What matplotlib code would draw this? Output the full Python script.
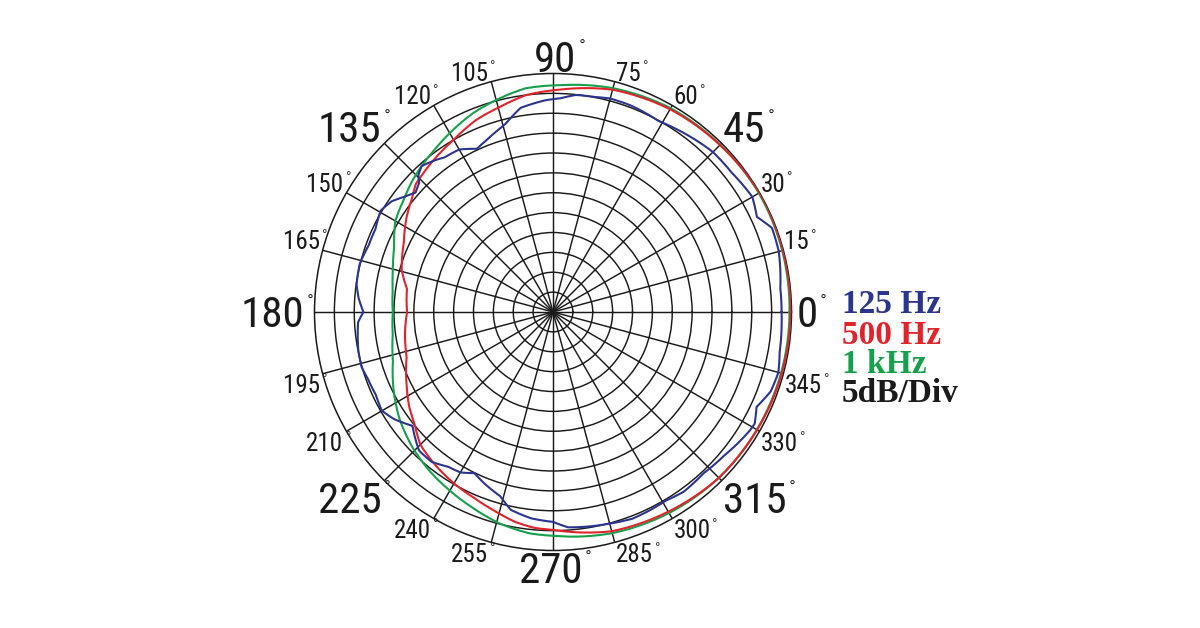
#!/usr/bin/env python3
"""Polar response plot: 125 Hz / 500 Hz / 1 kHz, 5 dB per division."""

import matplotlib
matplotlib.use("Agg")
import matplotlib.pyplot as plt
import matplotlib.transforms as mtransforms
import numpy as np

# ---- data (dB re. max) ----
hz125_deg = [0, 6, 15, 21, 25, 30, 38, 45, 52, 61, 69, 75, 79, 84, 88, 92, 99, 104,
             106, 111, 115, 120, 125, 128, 132, 134.5, 136, 139, 142, 145.5, 149.5,
             155, 160, 166, 172, 176, 180, 183, 191, 196, 200, 205, 210, 214, 219,
             222, 226, 231, 236, 240, 244, 248, 254, 258, 264, 270, 274, 285, 291,
             301, 306, 313, 320, 329, 331, 335, 340, 345, 350, 357, 360]
hz125_db = [-2.5, -2.5, -1.2, -1.0, -3.4, -2.1, -3.0, -3.1, -4.0, -5.1, -4.5, -4.4,
            -4.9, -5.1, -6.2, -6.7, -8.0, -11.1, -11.9, -13.6, -14.7, -12.8, -12.5,
            -11.6, -10.6, -11.7, -13.2, -14.2, -12.8, -10.8, -9.7, -10.7, -10.7,
            -9.9, -10.1, -11.0, -12.3, -10.9, -10.1, -9.9, -10.5, -10.8, -10.3,
            -11.8, -14.5, -13.2, -11.5, -11.5, -13.0, -13.4, -14.9, -13.6, -11.8,
            -9.1, -7.8, -7.2, -5.7, -4.9, -4.3, -4.7, -4.1, -4.5, -3.8, -2.2, -2.0,
            -3.5, -1.7, -1.3, -2.1, -2.4, -2.5]

hz500_deg = [0, 15, 30, 45, 60, 75, 88, 97, 104.5, 112, 120, 127, 133, 137, 141, 147,
             155, 164.5, 171, 180, 188, 197, 206, 213, 219, 225, 232, 240, 247, 253,
             260, 265, 270, 285, 300, 315, 330, 345, 360]
hz500_db = [-0.2, -0.1, 0.0, -0.6, -1.1, -2.1, -4.0, -5.0, -6.7, -8.0, -10.0, -11.2,
            -12.2, -12.8, -14.4, -16.1, -18.6, -20.5, -22.8, -23.3, -22.4, -21.5,
            -19.0, -16.8, -15.2, -12.8, -11.5, -10.2, -9.2, -8.0, -6.3, -5.5, -5.2,
            -2.9, -2.0, -1.0, -0.7, -0.4, -0.2]

khz1_deg = [0, 15, 30, 45, 60, 75, 88, 97, 104, 112, 119, 125, 131, 137, 143, 150,
            158, 165, 172, 180, 188, 197, 207, 215, 224, 232, 240, 247, 256, 264,
            270, 285, 300, 315, 330, 345, 360]
khz1_db = [-0.5, -0.3, -0.2, -0.5, -0.8, -1.7, -2.9, -3.3, -4.6, -6.1, -7.8, -9.2,
           -10.4, -11.6, -13.0, -14.2, -16.9, -18.3, -19.3, -19.7, -19.3, -17.9,
           -15.1, -12.9, -10.9, -9.4, -8.1, -6.9, -5.1, -4.0, -3.7, -2.4, -1.6,
           -1.0, -0.8, -0.6, -0.5]

angle_ticks = list(range(0, 360, 15))
legend_labels = ["125 Hz", "500 Hz", "1 kHz", "5dB/Div"]

BLUE = "#2b3590"
RED = "#e0242b"
GREEN = "#17a04c"
INK = "#1a1a1a"
DPI = 100
LABEL_FONT = ["Roboto Condensed", "Roboto", "DejaVu Sans"]

fig = plt.figure(figsize=(12, 6.28), dpi=DPI)
# polar box: centre (553, 312) px, radius 238.5 px
ax = fig.add_axes([314.5 / 1200, 77.5 / 628, 477 / 1200, 477 / 628], projection="polar")
ax.set_ylim(-60, 0)
ax.set_rticks(np.arange(-55, 0, 5))
ax.set_yticklabels([])
ax.set_thetagrids(angle_ticks, labels=[])
ax.grid(True, color=INK, lw=1.05)
ax.spines["polar"].set_color(INK)
ax.spines["polar"].set_linewidth(1.1)
ax.tick_params(length=0)

for deg, db, col in [(khz1_deg, khz1_db, GREEN), (hz500_deg, hz500_db, RED),
                     (hz125_deg, hz125_db, BLUE)]:
    (line,) = ax.plot(np.deg2rad(deg), db, color=col, lw=1.5, zorder=5)
    # let the polar transform bend each segment along the arc
    line.get_path()._interpolation_steps = 40

# angle labels around the rim: number + small raised degree ring
for a in angle_ticks:
    big = a % 45 == 0
    size = 31 if big else 18
    digit_h = 0.71 * size * DPI / 72
    c, s = np.cos(np.deg2rad(a)), np.sin(np.deg2rad(a))
    if c > 0.1:
        ha, dx = "left", 1
    elif c < -0.1:
        ha, dx = "right", -3
    else:
        ha, dx = "center", 2 if s > 0 else -2
    if s > 0.1:
        dy = 1
    elif s < -0.1:
        dy = -2 - digit_h
    else:
        dy = -digit_h / 2
    if a == 0:
        dx = 5
    if a == 180:
        dx = -10
    tr = mtransforms.offset_copy(ax.transAxes, fig=fig, x=dx, y=dy, units="dots")
    num = ax.text(0.5 + 0.5 * c, 0.5 + 0.5 * s, str(a), transform=tr,
                  ha=ha, va="baseline", fontsize=size, family=LABEL_FONT,
                  color=INK, clip_on=False)
    ax.annotate("°", xy=(1, 1), xycoords=num, xytext=(1.5, 1),
                textcoords="offset points", ha="left", va="top",
                fontsize=10 if big else 8, color=INK, family="DejaVu Sans",
                annotation_clip=False)

# legend block
legend_colors = [BLUE, RED, GREEN, INK]
legend_base = [313, 344, 373, 402]
for txt, col, yb in zip(legend_labels, legend_colors, legend_base):
    fig.text(842 / 1200, 1 - yb / 628, txt, color=col, fontsize=24,
             fontweight="bold", family=["Liberation Serif", "DejaVu Serif"],
             ha="left", va="baseline")

fig.savefig("out.png", dpi=DPI)
